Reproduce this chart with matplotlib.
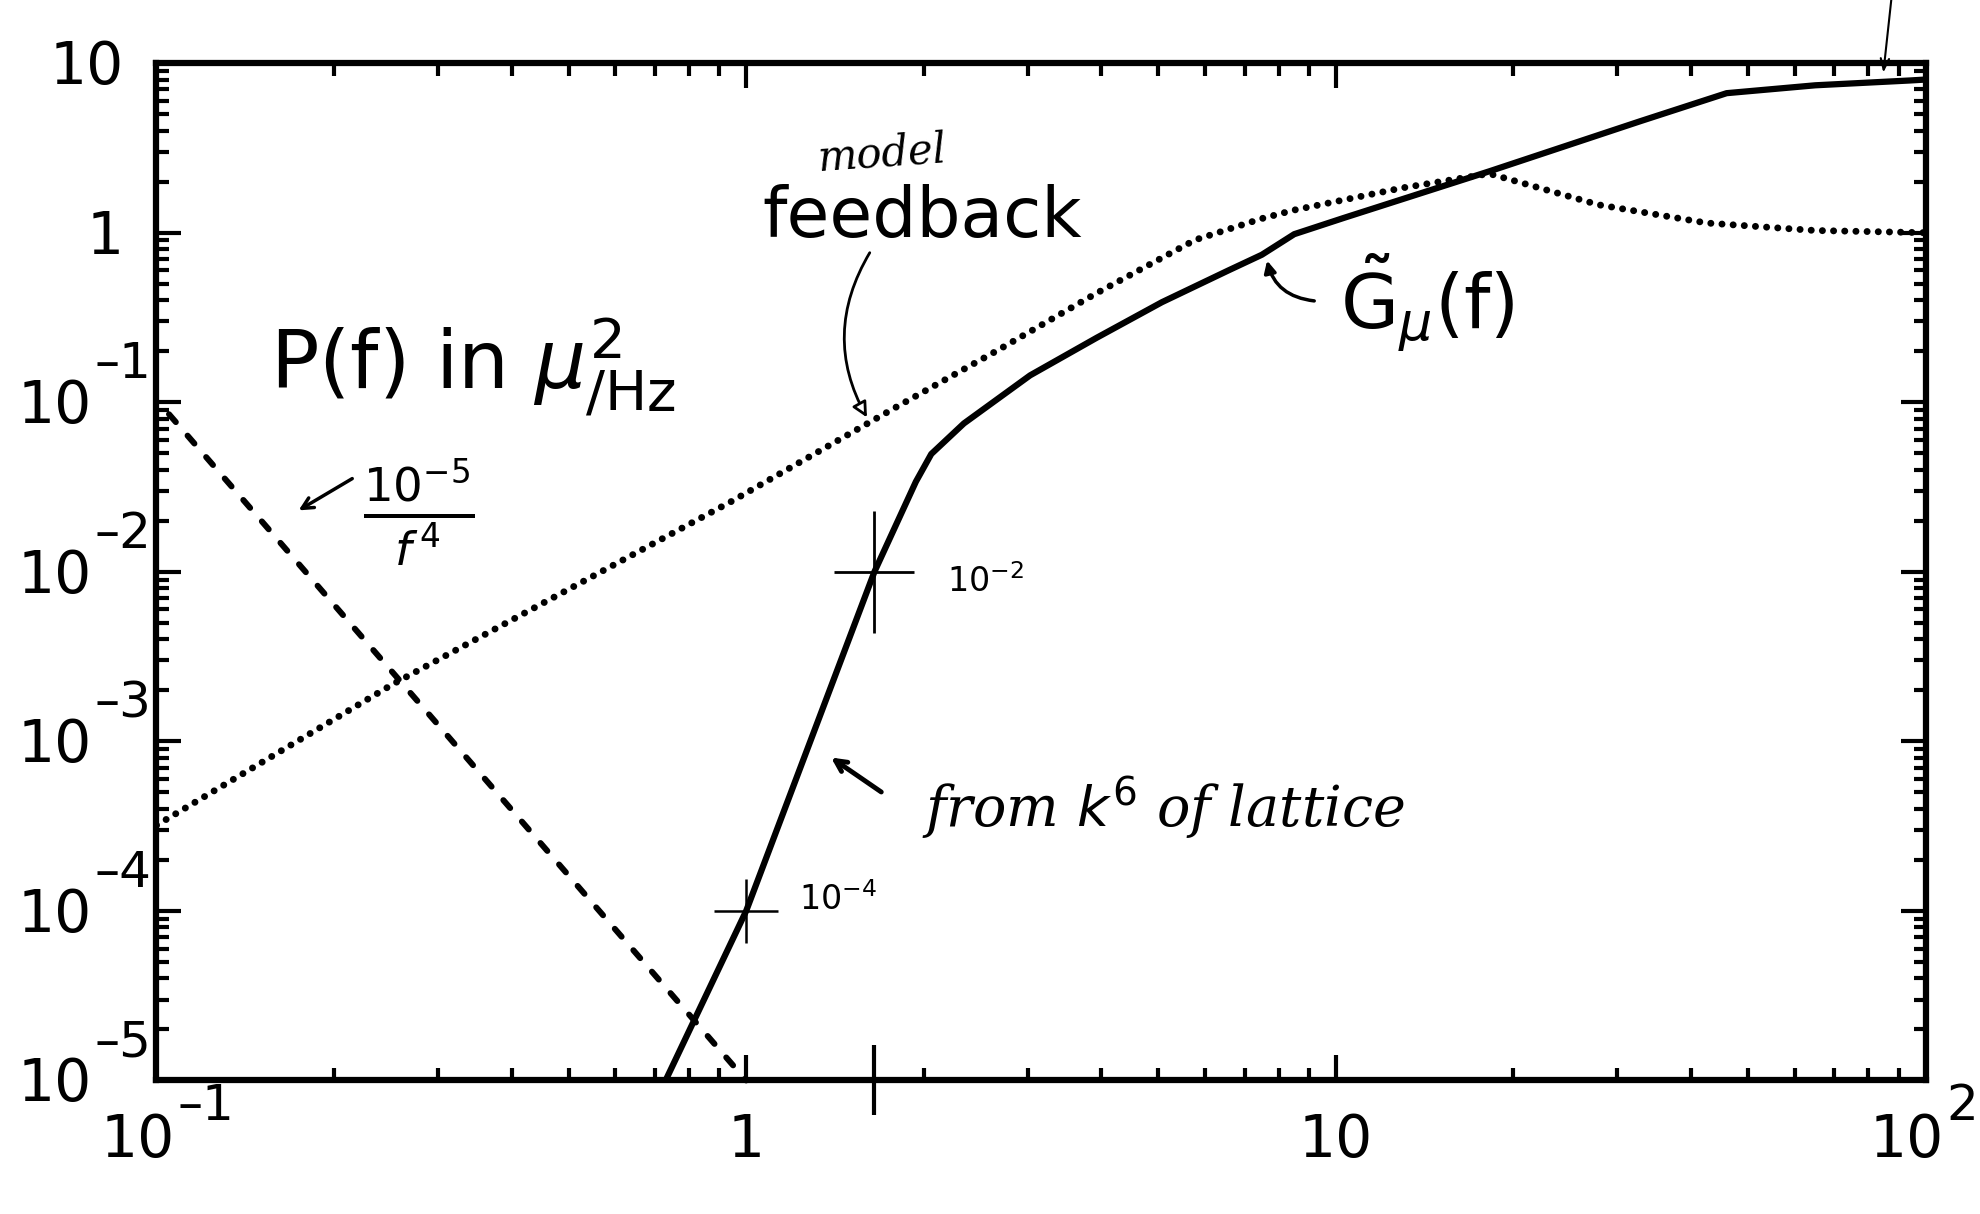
import numpy as np
import matplotlib
matplotlib.use('Agg')
import matplotlib.pyplot as plt
from matplotlib.ticker import LogLocator, NullFormatter
from matplotlib.transforms import offset_copy

plt.rcParams['font.family'] = ['DejaVu Sans']
plt.rcParams['mathtext.fontset'] = 'dejavusans'

# dashed reference line, 10^-5 / f^4
f_ref = [0.105, 1.0]
p_ref = [0.085, 1.0e-5]

# model feedback (dotted)
f_fb = [0.1, 0.252, 0.944, 1.8, 2.66, 3.92, 5.77, 7.48, 8.5, 13, 18.2, 27.9, 42.6, 65, 86.5, 100]
p_fb = [3.2e-4, 2.18e-3, 0.026, 0.094, 0.201, 0.438, 0.906, 1.21, 1.36, 1.84, 2.23, 1.46, 1.14, 1.03, 1.01, 1.0]

# G_mu(f) (solid)
f_g = [0.73, 1.0, 1.65, 1.94, 2.06, 2.34, 3.03, 3.93, 5.07, 6.56, 7.49, 8.5, 10.3, 18.2, 32.8, 46, 65, 94, 100]
p_g = [1.0e-5, 1.0e-4, 1.0e-2, 0.034, 0.0495, 0.075, 0.144, 0.24, 0.389, 0.597, 0.741, 0.98, 1.22, 2.3,
       4.54, 6.65, 7.4, 7.9, 8.0]

# hand-marked reference points on the solid curve
cross_f = [1.0, 1.65]
cross_p = [1.0e-4, 1.0e-2]
cross_lbl = [r'$10^{-4}$', r'$10^{-2}$']

xticks = [0.1, 1, 10, 100]
xtick_base = ['10', '1', '10', '10']
xtick_exp = ['\u20131', '', '', '2']
yticks = [1e-5, 1e-4, 1e-3, 1e-2, 1e-1, 1, 10]
ytick_base = ['10', '10', '10', '10', '10', '1', '10']
ytick_exp = ['\u20135', '\u20134', '\u20133', '\u20132', '\u20131', '', '']

BASE_FS = 42
EXP_FS = 36


def on_curve(f, xs, ys):
    return 10 ** np.interp(np.log10(f), np.log10(xs), np.log10(ys))


fig = plt.figure(figsize=(19.81, 12.14), dpi=100)
ax = fig.add_axes([0.079, 0.110, 0.893, 0.838])
ax.set_xscale('log')
ax.set_yscale('log')
ax.set_xlim(0.1, 100)
ax.set_ylim(1e-5, 10)

ax.plot(f_ref, p_ref, color='black', lw=4.3, linestyle=(0, (1.75, 3.0)),
        dash_capstyle='round', clip_on=False)
ax.plot(f_fb, p_fb, color='black', lw=5.0, linestyle=(0, (0.01, 1.6)),
        dash_capstyle='round')
ax.plot(f_g, p_g, color='black', lw=4.5, solid_joinstyle='round')

# crosses and their little labels
ax.plot(cross_f[0], cross_p[0], marker='+', ms=46, mew=1.8, color='black')
ax.plot(cross_f[1], cross_p[1], marker='_', ms=58, mew=2.0, color='black')
ax.plot(cross_f[1], cross_p[1], marker='|', ms=88, mew=2.0, color='black')
ax.plot(cross_f[1], 1e-5, marker='|', ms=50, mew=3.0, color='black', clip_on=False)
ax.text(0.363, 0.178, cross_lbl[0], transform=ax.transAxes, fontsize=24,
        style='italic', ha='left', va='center')
ax.text(0.447, 0.49, cross_lbl[1], transform=ax.transAxes, fontsize=24,
        style='italic', ha='left', va='center')

# frame and ticks
for s in ax.spines.values():
    s.set_linewidth(4.5)
ax.set_xticks(xticks)
ax.set_yticks(yticks)
ax.xaxis.set_minor_locator(LogLocator(base=10, subs=np.arange(2, 10)))
ax.yaxis.set_minor_locator(LogLocator(base=10, subs=np.arange(2, 10)))
ax.xaxis.set_minor_formatter(NullFormatter())
ax.yaxis.set_minor_formatter(NullFormatter())
ax.tick_params(which='both', direction='in', top=True, right=True, width=3,
               labelbottom=False, labelleft=False)
ax.tick_params(which='major', length=18)
ax.tick_params(which='minor', length=9)

# tick labels: big "10" with a big raised exponent beside it
xtr = ax.get_xaxis_transform()
for xv, b, e in zip(xticks, xtick_base, xtick_exp):
    dx = -19 if e else 0
    ax.text(xv, 0, b, fontsize=BASE_FS, ha='center', va='baseline',
            transform=offset_copy(xtr, fig=fig, x=dx, y=-77, units='dots'))
    if e:
        ax.text(xv, 0, e, fontsize=EXP_FS, ha='left', va='baseline',
                transform=offset_copy(xtr, fig=fig, x=21, y=-40, units='dots'))

ytr = ax.get_yaxis_transform()
for yv, b, e in zip(yticks, ytick_base, ytick_exp):
    dx = -65 if e else -33
    ax.text(0, yv, b, fontsize=BASE_FS, ha='right', va='baseline',
            transform=offset_copy(ytr, fig=fig, x=dx, y=-21, units='dots'))
    if e:
        ax.text(0, yv, e, fontsize=EXP_FS, ha='right', va='baseline',
                transform=offset_copy(ytr, fig=fig, x=-5, y=24, units='dots'))

# labels written on the plot
ax.text(0.064, 0.702, r'P(f) in $\mu^{2}_{/\mathrm{Hz}}$', transform=ax.transAxes,
        fontsize=58, ha='left', va='center')
ax.text(0.410, 0.911, 'model', transform=ax.transAxes, fontsize=30,
        family='DejaVu Serif', style='italic', ha='center', va='center', rotation=4)
ax.text(0.433, 0.848, 'feedback', transform=ax.transAxes, fontsize=50,
        ha='center', va='center')
ax.text(0.669, 0.764, r'$\tilde{\mathrm{G}}_{\mu}$(f)', transform=ax.transAxes,
        fontsize=54, ha='left', va='center')
ax.text(0.148, 0.559, r'$\frac{10^{-5}}{f^{\,4}}$', transform=ax.transAxes,
        fontsize=48, ha='center', va='center')
ax.text(0.433, 0.267, r'from $k^{6}$ of lattice', transform=ax.transAxes,
        fontsize=40, family='DejaVu Serif', style='italic', ha='left', va='center')

# arrows
fb_f = 1.62
ax.annotate('', xy=(fb_f, on_curve(fb_f, f_fb, p_fb)), xycoords='data',
            xytext=(0.404, 0.816), textcoords='axes fraction',
            arrowprops=dict(arrowstyle='-|>,head_length=0.9,head_width=0.45',
                            fc='white', ec='black', lw=2,
                            connectionstyle='arc3,rad=0.3', shrinkB=4))
g_f = 7.6
ax.annotate('', xy=(g_f, on_curve(g_f, f_g, p_g)), xycoords='data',
            xytext=(0.656, 0.766), textcoords='axes fraction',
            arrowprops=dict(arrowstyle='-|>,head_length=0.7,head_width=0.35',
                            fc='black', ec='black', lw=2.5,
                            connectionstyle='arc3,rad=-0.4', shrinkB=6))
ax.annotate('', xy=(0.079, 0.559), xycoords='axes fraction',
            xytext=(0.112, 0.593), textcoords='axes fraction',
            arrowprops=dict(arrowstyle='->,head_length=0.8,head_width=0.4',
                            color='black', lw=2.5))
ax.annotate('', xy=(0.380, 0.319), xycoords='axes fraction',
            xytext=(0.411, 0.282), textcoords='axes fraction',
            arrowprops=dict(arrowstyle='->,head_length=0.8,head_width=0.4',
                            color='black', lw=3.5))
ax.annotate('', xy=(0.976, 0.988), xycoords='axes fraction',
            xytext=(0.981, 1.068), textcoords='axes fraction',
            arrowprops=dict(arrowstyle='->,head_length=0.8,head_width=0.3',
                            color='black', lw=1.5), annotation_clip=False)

fig.savefig('out.png', dpi=100, facecolor='white')
